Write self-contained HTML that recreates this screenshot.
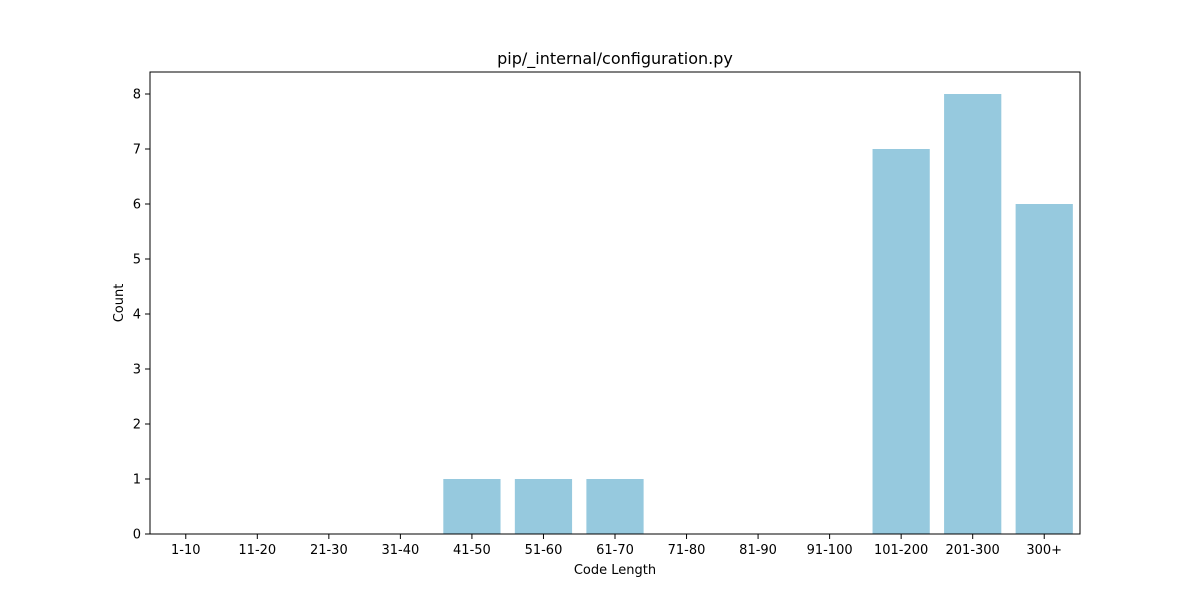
<!DOCTYPE html>
<html><head><meta charset="utf-8"><style>
body{margin:0;background:#fff;}
svg{display:block;font-family:"DejaVu Sans","Liberation Sans",sans-serif;}
</style></head><body>
<svg id="chart" width="1200" height="600"></svg>
<script>
const categories=["1-10","11-20","21-30","31-40","41-50","51-60","61-70","71-80","81-90","91-100","101-200","201-300","300+"];
const counts=[0,0,0,0,1,1,1,0,0,0,7,8,6];
const yTicks=[0,1,2,3,4,5,6,7,8];
const L=150,R=1080,T=72,B=534,yMax=8.4;
const svg=document.getElementById('chart');
const NS="http://www.w3.org/2000/svg";
function mk(tag,attrs,parent){const e=document.createElementNS(NS,tag);for(const k in attrs)e.setAttribute(k,attrs[k]);(parent||svg).appendChild(e);return e;}
const step=(R-L)/categories.length;
const xC=i=>L+(i+0.5)*step;
const y=v=>B-(v/yMax)*(B-T);
const bars=mk('g',{});


counts.forEach((v,i)=>{
  const r=mk('rect',{x:xC(i)-step*0.4,y:y(v),width:step*0.8,height:B-y(v),fill:'#96c9de'},bars);
  
  
});
const frame=mk('rect',{x:L,y:T,width:R-L,height:B-T,fill:'none',stroke:'#000','stroke-width':1});


categories.forEach((c,i)=>{
  mk('line',{x1:xC(i),x2:xC(i),y1:B,y2:B+5,stroke:'#000'});
  const t=mk('text',{x:xC(i),y:B+20,'text-anchor':'middle','font-size':13});
  t.textContent=c;
  
  
});
yTicks.forEach(v=>{
  mk('line',{x1:L-5,x2:L,y1:y(v),y2:y(v),stroke:'#000'});
  const t=mk('text',{x:L-9,y:y(v)+4.5,'text-anchor':'end','font-size':13});
  t.textContent=v;
  
  
});
const xt=mk('text',{x:(L+R)/2,y:574,'text-anchor':'middle','font-size':13});
xt.textContent='Code Length';


const yt=mk('text',{x:0,y:0,'text-anchor':'middle','font-size':13,transform:`translate(123,${(T+B)/2}) rotate(-90)`});
yt.textContent='Count';


const tt=mk('text',{x:(L+R)/2,y:64,'text-anchor':'middle','font-size':16});
tt.textContent='pip/_internal/configuration.py';


</script>
</body></html>
